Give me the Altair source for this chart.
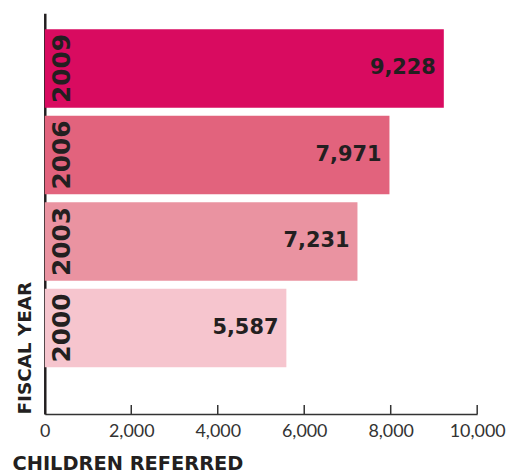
import altair as alt
import pandas as pd

fiscal_years = ["2009", "2006", "2003", "2000"]
children = [9228, 7971, 7231, 5587]
bar_colors = ["#D90B60", "#E2637D", "#EA93A1", "#F6C5CE"]
x_ticks = [0, 2000, 4000, 6000, 8000, 10000]

df = pd.DataFrame({"year": fiscal_years, "children": children, "zero": [0] * 4})
ticks_df = pd.DataFrame({"t": x_ticks[1:]})

W, H = 435, 403
INK = "#231F20"

y_enc = alt.Y(
    "year:N",
    sort=fiscal_years,
    scale=alt.Scale(paddingInner=0.092, paddingOuter=0.362, align=0.254),
    axis=alt.Axis(
        title="FISCAL YEAR", labels=False, ticks=False, domainColor=INK, domainWidth=2.5,
        titleFont="DejaVu Sans", titleFontWeight="bold", titleFontSize=18.5, titleColor=INK,
        titleAngle=270, titleAlign="left", titleBaseline="middle", titleX=-20, titleY=H,
    ),
)
x_scale = alt.Scale(domain=[0, 10000], nice=False)
x_enc = alt.X(
    "children:Q",
    scale=x_scale,
    axis=alt.Axis(
        title="CHILDREN REFERRED", values=x_ticks, labelExpr="format(datum.value, ',')",
        grid=False, tickSize=0, labelOverlap=False, labelFlush=False, labelBound=False,
        labelFont="Lato", labelFontSize=18, labelColor="#333333", labelPadding=9,
        domainColor="#333333", domainWidth=1.5,
        titleFont="DejaVu Sans", titleFontWeight="bold", titleFontSize=19.5, titleColor=INK,
        titleAnchor="start", titleAlign="left", titleBaseline="middle", titleX=-33, titleY=50,
    ),
)

bars = alt.Chart(df).mark_bar().encode(
    x=x_enc,
    y=y_enc,
    color=alt.Color("year:N", scale=alt.Scale(domain=fiscal_years, range=bar_colors), legend=None),
)

values = alt.Chart(df).mark_text(
    align="right", baseline="middle", dx=-8, font="DejaVu Sans", fontWeight="bold",
    fontSize=21, color=INK,
).encode(x=alt.X("children:Q", scale=x_scale), y=alt.Y("year:N", sort=fiscal_years), text=alt.Text("children:Q", format=","))

years = alt.Chart(df).mark_text(
    angle=270, align="center", baseline="middle", dy=17.5, font="DejaVu Sans",
    fontWeight="bold", fontSize=25, color=INK,
).encode(x=alt.X("zero:Q", scale=x_scale), y=alt.Y("year:N", sort=fiscal_years), text="year:N")

tick_marks = alt.Chart(ticks_df).mark_rule(color="#333333", strokeWidth=1.5).encode(
    x=alt.X("t:Q", scale=x_scale), y=alt.value(H - 9), y2=alt.value(H)
)

chart = alt.layer(bars, values, years, tick_marks).properties(
    width=W, height=H,
    autosize=alt.AutoSizeParams(type="none"),
    padding={"left": 37, "top": 4, "right": 33, "bottom": 60},
).configure_view(stroke=None)

chart.save("out.html", embed_options={"renderer": "svg", "actions": False})
